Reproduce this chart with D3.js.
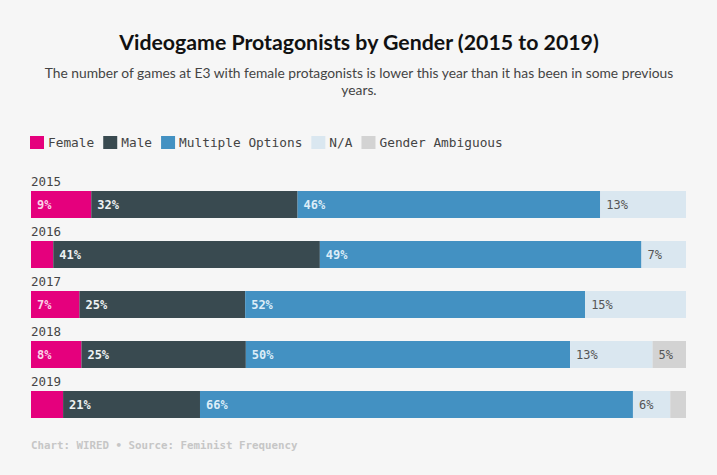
<!DOCTYPE html>
<html><head><meta charset="utf-8">
<script src="https://cdn.jsdelivr.net/npm/d3@7"></script>
<style>
body{margin:0;background:#f6f6f6;}
svg{display:block;}
</style></head>
<body>
<script>
const years = ["2015","2016","2017","2018","2019"];
const seriesNames = ["Female","Male","Multiple Options","N/A","Gender Ambiguous"];
const female   = [9.2, 3.4, 7.4, 7.7, 4.9];
const male     = [31.5, 40.7, 25.3, 25.1, 20.9];
const multiple = [46.2, 49.1, 51.9, 49.5, 66.1];
const na       = [13.1, 6.8, 15.4, 12.6, 5.7];
const ambiguous= [0, 0, 0, 5.1, 2.4];
const colors = ["#e5007d","#394a50","#4391c2","#dae7f0","#d3d3d3"];
const labelColors = ["#fbd3e8","#eef2f3","#dcedf8","#555","#555"];

const W=717,H=475;
const svg=d3.select("body").append("svg").attr("width",W).attr("height",H);
svg.append("rect").attr("width",W).attr("height",H).attr("fill","#f6f6f6");

const titleFont="Lato, 'Open Sans', sans-serif";
const mono="'DejaVu Sans Mono', 'Liberation Mono', monospace";

svg.append("text").attr("x",359).attr("y",50).attr("text-anchor","middle")
  .style("font-family",titleFont).style("font-weight","bold").style("font-size","21.3px").attr("fill","#111")
  .text("Videogame Protagonists by Gender (2015 to 2019)");
const sub=["The number of games at E3 with female protagonists is lower this year than it has been in some previous","years."];
sub.forEach((s,i)=>svg.append("text").attr("x",359).attr("y",78+i*17).attr("text-anchor","middle")
  .style("font-family",titleFont).style("font-size","13.8px").attr("fill","#444").text(s));

// legend
let lx=30;
const lg=svg.append("g");
seriesNames.forEach((n,i)=>{
  lg.append("rect").attr("x",lx).attr("y",136).attr("width",14).attr("height",13).attr("fill",colors[i]);
  const t=lg.append("text").attr("x",lx+18).attr("y",147).style("font-family",mono).style("font-size","12.8px")
    .attr("fill","#444").text(n);
  lx+=18+t.node().getComputedTextLength()+9;
});

const data = years.map((y,i)=>({year:y, Female:female[i], Male:male[i], "Multiple Options":multiple[i], "N/A":na[i], "Gender Ambiguous":ambiguous[i]}));
const stack=d3.stack().keys(seriesNames)(data);

const x=d3.scaleLinear().domain([0,100]).range([31,686]);
const y=d3.scaleBand().domain(years).range([178,428]).paddingInner(0).paddingOuter(0);

// year labels
svg.selectAll(".yl").data(years).enter().append("text")
  .attr("x",31).attr("y",d=>y(d)+8).style("font-family",mono).style("font-size","12.5px").attr("fill","#444").text(d=>d);

stack.forEach((layer,si)=>{
  const g=svg.append("g");
  g.selectAll("rect").data(layer).enter().append("rect")
    .attr("x",d=>x(d[0])).attr("width",d=>x(d[1])-x(d[0]))
    .attr("y",d=>y(d.data.year)+13).attr("height",27).attr("fill",colors[si]);
  g.selectAll("text").data(layer.filter(d=>d[1]-d[0]>=5)).enter().append("text")
    .attr("x",d=>x(d[0])+6).attr("y",d=>y(d.data.year)+13+13.5).attr("dy","0.36em")
    .style("font-family",mono).style("font-size","12px").style("font-weight",si<3?"bold":"normal")
    .attr("fill",labelColors[si]).text(d=>Math.round(d[1]-d[0])+"%");
});

svg.append("text").attr("x",31).attr("y",449).style("font-family",mono).style("font-weight","bold")
  .style("font-size","10.8px").attr("fill","#c6c6c6").text("Chart: WIRED \u2022 Source: Feminist Frequency");
</script>
</body></html>
